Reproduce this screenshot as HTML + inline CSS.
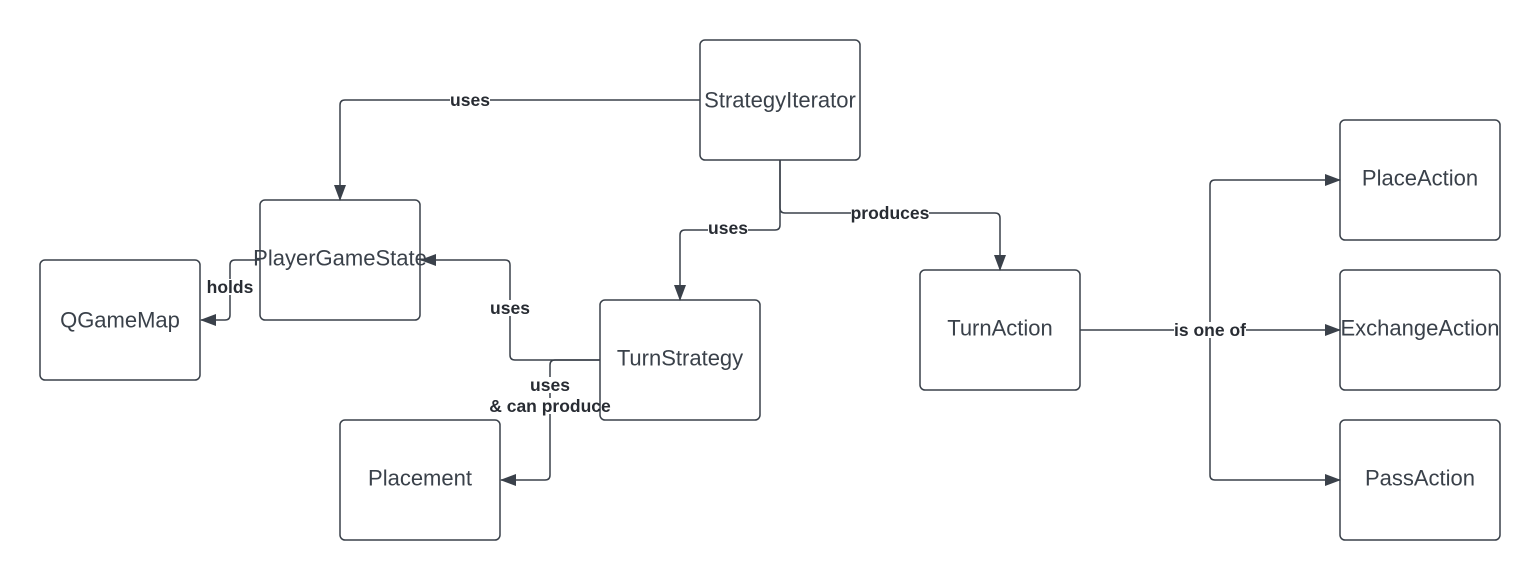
<!DOCTYPE html>
<html><head><meta charset="utf-8"><style>
body{margin:0;background:#fff;width:1540px;height:581px;overflow:hidden}
svg text{font-family:"Liberation Sans",sans-serif}
.n{font-size:22px;fill:#3a414a;text-anchor:middle;dominant-baseline:central}
.l{font-size:17.5px;font-weight:bold;fill:#282c33;text-anchor:middle;dominant-baseline:central}
.bg{fill:#fff}
</style></head><body>
<svg width="1540" height="581" xmlns="http://www.w3.org/2000/svg">
<defs><marker id="b" markerWidth="16" markerHeight="12" refX="15" refY="6" orient="auto" markerUnits="userSpaceOnUse"><path d="M0,0 L16,6 L0,12 z" fill="#3a414a"/></marker></defs>
<g fill="none" stroke="#3a414a" stroke-width="1.5">
<rect x="700" y="40" width="160" height="120" rx="5"/>
<rect x="260" y="200" width="160" height="120" rx="5"/>
<rect x="40" y="260" width="160" height="120" rx="5"/>
<rect x="600" y="300" width="160" height="120" rx="5"/>
<rect x="340" y="420" width="160" height="120" rx="5"/>
<rect x="920" y="270" width="160" height="120" rx="5"/>
<rect x="1340" y="120" width="160" height="120" rx="5"/>
<rect x="1340" y="270" width="160" height="120" rx="5"/>
<rect x="1340" y="420" width="160" height="120" rx="5"/>
<g marker-end="url(#b)">
<path d="M700,100 H345 Q340,100 340,105 V200"/>
<path d="M260,260 H235 Q230,260 230,265 V315 Q230,320 225,320 H201"/>
<path d="M780,160 V225 Q780,230 775,230 H685 Q680,230 680,235 V300"/>
<path d="M780,160 V208 Q780,213 785,213 H995 Q1000,213 1000,218 V270"/>
<path d="M600,360 H515 Q510,360 510,355 V265 Q510,260 505,260 H421"/>
<path d="M600,360 H555 Q550,360 550,365 V475 Q550,480 545,480 H501"/>
<path d="M1080,330 H1340"/>
<path d="M1210,330 V185 Q1210,180 1215,180 H1340"/>
<path d="M1210,330 V475 Q1210,480 1215,480 H1340"/>
</g></g>
<rect class="bg" x="450" y="92" width="40" height="16"/><text class="l" x="470" y="100">uses</text>
<rect class="bg" x="207" y="279" width="46" height="16"/><text class="l" x="230" y="287">holds</text>
<rect class="bg" x="708" y="220" width="40" height="16"/><text class="l" x="728" y="228">uses</text>
<rect class="bg" x="851" y="205" width="78" height="16"/><text class="l" x="890" y="213">produces</text>
<rect class="bg" x="490" y="300" width="40" height="16"/><text class="l" x="510" y="308">uses</text>
<rect class="bg" x="530" y="377" width="40" height="16"/>
<rect class="bg" x="490" y="398" width="108" height="16"/>
<text class="l" x="550" y="385">uses</text><text class="l" x="550" y="406">&amp; can produce</text>
<rect class="bg" x="1174" y="322" width="72" height="16"/><text class="l" x="1210" y="330">is one of</text>
<text class="n" x="780" y="100">StrategyIterator</text>
<text class="n" x="340" y="258">PlayerGameState</text>
<text class="n" x="120" y="320">QGameMap</text>
<text class="n" x="680" y="358">TurnStrategy</text>
<text class="n" x="420" y="478">Placement</text>
<text class="n" x="1000" y="328">TurnAction</text>
<text class="n" x="1420" y="178">PlaceAction</text>
<text class="n" x="1420" y="328">ExchangeAction</text>
<text class="n" x="1420" y="478">PassAction</text>
</svg>
</body></html>
